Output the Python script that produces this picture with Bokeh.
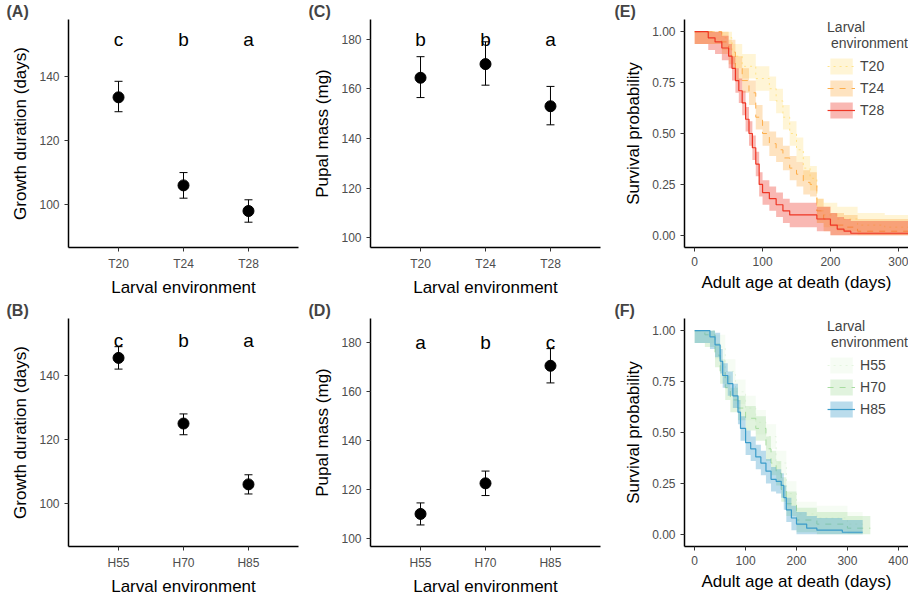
from bokeh.plotting import figure
from bokeh.models import (ColumnDataSource, Whisker, TeeHead, Legend, LegendItem,
                          FactorRange, CustomJSTickFormatter)
from bokeh.layouts import gridplot
from bokeh.embed import file_html
from bokeh.resources import INLINE

FONT = "Liberation Sans"

# --- growth / pupal mass data ---
temp_levels = ["T20", "T24", "T28"]
hum_levels = ["H55", "H70", "H85"]

growth_temp = [133.5, 106.0, 98.0]
growth_temp_lo = [129.0, 102.0, 94.5]
growth_temp_hi = [138.5, 110.0, 101.5]
growth_temp_letters = ["c", "b", "a"]

mass_temp = [164.5, 170.0, 153.0]
mass_temp_lo = [156.5, 161.5, 145.5]
mass_temp_hi = [173.0, 179.0, 161.0]
mass_temp_letters = ["b", "b", "a"]

growth_hum = [145.5, 125.0, 106.0]
growth_hum_lo = [142.0, 121.5, 103.0]
growth_hum_hi = [149.0, 128.0, 109.0]
growth_hum_letters = ["c", "b", "a"]

mass_hum = [110.0, 122.5, 170.5]
mass_hum_lo = [105.5, 117.5, 163.5]
mass_hum_hi = [114.5, 127.5, 177.5]
mass_hum_letters = ["a", "b", "c"]

# --- survival curves ---
t20_t = [0, 20, 40, 55, 70, 90, 110, 120, 130, 140, 150, 160, 170, 180, 190, 210, 240, 280, 315]
t20_s = [1, 1, 0.97, 0.88, 0.83, 0.77, 0.72, 0.66, 0.58, 0.5, 0.42, 0.33, 0.28, 0.12, 0.1, 0.08, 0.05, 0.04, 0.04]
t24_t = [0, 20, 40, 50, 60, 70, 80, 90, 100, 110, 120, 130, 140, 150, 160, 170, 180, 190, 200, 220, 240, 315]
t24_s = [1, 1, 0.95, 0.9, 0.82, 0.76, 0.7, 0.58, 0.5, 0.45, 0.42, 0.38, 0.33, 0.3, 0.26, 0.25, 0.12, 0.08, 0.05, 0.04, 0.02, 0.02]
t28_t = [0, 15, 20, 30, 40, 50, 55, 60, 65, 70, 75, 80, 85, 90, 95, 100, 110, 120, 130, 140, 160, 180, 200, 210, 220, 230, 315]
t28_s = [1, 1, 0.97, 0.95, 0.92, 0.88, 0.82, 0.76, 0.71, 0.65, 0.57, 0.5, 0.43, 0.35, 0.25, 0.21, 0.18, 0.15, 0.12, 0.1, 0.1, 0.08, 0.05, 0.03, 0.02, 0.01, 0.01]

h55_t = [0, 20, 40, 60, 80, 100, 120, 140, 160, 180, 200, 240, 300, 330]
h55_s = [1, 1, 0.92, 0.8, 0.7, 0.62, 0.55, 0.48, 0.35, 0.2, 0.1, 0.08, 0.05, 0.03]
h70_t = [0, 20, 40, 50, 60, 70, 85, 100, 120, 140, 150, 160, 170, 180, 200, 240, 300, 345]
h70_s = [1, 0.98, 0.88, 0.8, 0.72, 0.66, 0.62, 0.57, 0.52, 0.42, 0.35, 0.3, 0.22, 0.15, 0.07, 0.05, 0.03, 0.03]
h85_t = [0, 20, 30, 40, 50, 55, 65, 75, 85, 90, 100, 110, 120, 130, 140, 150, 160, 170, 175, 180, 190, 200, 220, 240, 290, 330]
h85_s = [1, 1, 0.97, 0.93, 0.85, 0.78, 0.74, 0.68, 0.6, 0.52, 0.45, 0.42, 0.38, 0.35, 0.31, 0.27, 0.26, 0.24, 0.18, 0.12, 0.08, 0.05, 0.03, 0.02, 0.01, 0.01]

band_half = 0.06


def style(p, xlabel, ylabel, label, dx):
    p.xgrid.visible = False
    p.ygrid.visible = False
    p.outline_line_color = None
    for ax in (p.xaxis, p.yaxis):
        ax.axis_line_color = "black"
        ax.axis_line_width = 1.5
        ax.major_tick_line_color = "#333333"
        ax.minor_tick_line_color = None
        ax.major_tick_in = 0
        ax.major_tick_out = 4
        ax.major_label_text_color = "#4d4d4d"
        ax.major_label_text_font = FONT
        ax.major_label_text_font_size = "12px"
        ax.axis_label_text_font = FONT
        ax.axis_label_text_font_style = "normal"
        ax.axis_label_text_font_size = "17px"
        ax.axis_label_text_color = "black"
    p.xaxis.axis_label = xlabel
    p.yaxis.axis_label = ylabel
    p.xaxis.axis_label_standoff = 4
    p.yaxis.axis_label_standoff = 6
    p.title.text = label
    p.title.align = "left"
    p.title.offset = dx
    p.title.standoff = 0
    p.title.text_font = FONT
    p.title.text_font_size = "16px"
    p.title.text_font_style = "bold"


def dot_panel(levels, vals, lo, hi, letters, yr, ticks, letter_y, ylabel, label, bottom, left, right):
    src = ColumnDataSource(dict(x=levels, y=vals, lo=lo, hi=hi, let=letters,
                                ly=[letter_y] * len(levels)))
    p = figure(x_range=FactorRange(*levels), y_range=yr,
               frame_width=230, frame_height=228, min_border_top=0, min_border_bottom=bottom,
               min_border_left=left, min_border_right=right,
               output_backend="svg", toolbar_location=None)
    p.x_range.factor_padding = 0
    p.x_range.range_padding = 0.18
    p.add_layout(Whisker(source=src, base="x", lower="lo", upper="hi", line_width=1,
                         upper_head=TeeHead(size=8, line_width=1),
                         lower_head=TeeHead(size=8, line_width=1)))
    p.scatter("x", "y", source=src, size=11, color="black")
    p.text("x", "ly", text="let", source=src, text_align="center", text_baseline="middle",
           text_font_size="19px", text_font={"value": FONT})
    p.yaxis.ticker = ticks
    style(p, "Larval environment", ylabel, label, -62)
    return p


def surv_panel(curves, xr, xticks, label, bottom, left, right):
    p = figure(x_range=xr, y_range=(-0.06, 1.06), frame_width=224, frame_height=228,
               min_border_top=0, min_border_bottom=bottom, min_border_left=left,
               min_border_right=right, output_backend="svg", toolbar_location=None)
    items = []
    for name, t, s, color, dash, lw in curves:
        lo = [max(v - band_half, 0) for v in s]
        hi = [min(v + band_half, 1) for v in s]
        b = p.varea_step(x=t, y1=lo, y2=hi, step_mode="after", fill_color=color, fill_alpha=0.35)
        l = p.step(t, s, mode="after", line_color=color, line_dash=dash, line_width=lw)
        items.append(LegendItem(label=name, renderers=[b, l]))
    leg = Legend(items=items, location="top_right", title="Larval\n environment",
                 background_fill_alpha=0, border_line_color=None,
                 label_text_font=FONT, label_text_font_size="14px",
                 title_text_font=FONT, title_text_font_size="14px", title_text_font_style="normal",
                 glyph_width=28, glyph_height=20, spacing=2, padding=2, margin=0)
    p.add_layout(leg)
    p.xaxis.ticker = xticks
    p.yaxis.ticker = [0, 0.25, 0.5, 0.75, 1.0]
    p.yaxis.formatter = CustomJSTickFormatter(code="return tick.toFixed(2)")
    style(p, "Adult age at death (days)", "Survival probability", "(" + label + ")", -70)
    return p


pA = dot_panel(temp_levels, growth_temp, growth_temp_lo, growth_temp_hi, growth_temp_letters,
               (86.6, 157.8), [100, 120, 140], 151.6, "Growth duration (days)", "(A)", 50, 68, 8)
pC = dot_panel(temp_levels, mass_temp, mass_temp_lo, mass_temp_hi, mass_temp_letters,
               (96, 188), [100, 120, 140, 160, 180], 180, "Pupal mass (mg)", "(C)", 50, 64, 8)
pE = surv_panel([("T20", t20_t, t20_s, "#ffe38a", "dotted", 1),
                 ("T24", t24_t, t24_s, "#fdae4b", "dashed", 1),
                 ("T28", t28_t, t28_s, "#ee3524", "solid", 1.2)],
                (-15, 315), [0, 100, 200, 300], "E", 50, 76, 0)
pB = dot_panel(hum_levels, growth_hum, growth_hum_lo, growth_hum_hi, growth_hum_letters,
               (86.6, 157.8), [100, 120, 140], 151, "Growth duration (days)", "(B)", 36, 68, 8)
pD = dot_panel(hum_levels, mass_hum, mass_hum_lo, mass_hum_hi, mass_hum_letters,
               (96.7, 189.8), [100, 120, 140, 160, 180], 180, "Pupal mass (mg)", "(D)", 36, 64, 8)
pF = surv_panel([("H55", h55_t, h55_s, "#e5f5e0", "dotted", 1),
                 ("H70", h70_t, h70_s, "#a8dca0", "dashed", 1),
                 ("H85", h85_t, h85_s, "#3a9bc9", "solid", 1.2)],
                (-20, 420), [0, 100, 200, 300, 400], "F", 36, 76, 0)

p = gridplot([[pA, pC, pE], [pB, pD, pF]], toolbar_location=None)

open("out.html", "w").write(file_html(p, INLINE))
